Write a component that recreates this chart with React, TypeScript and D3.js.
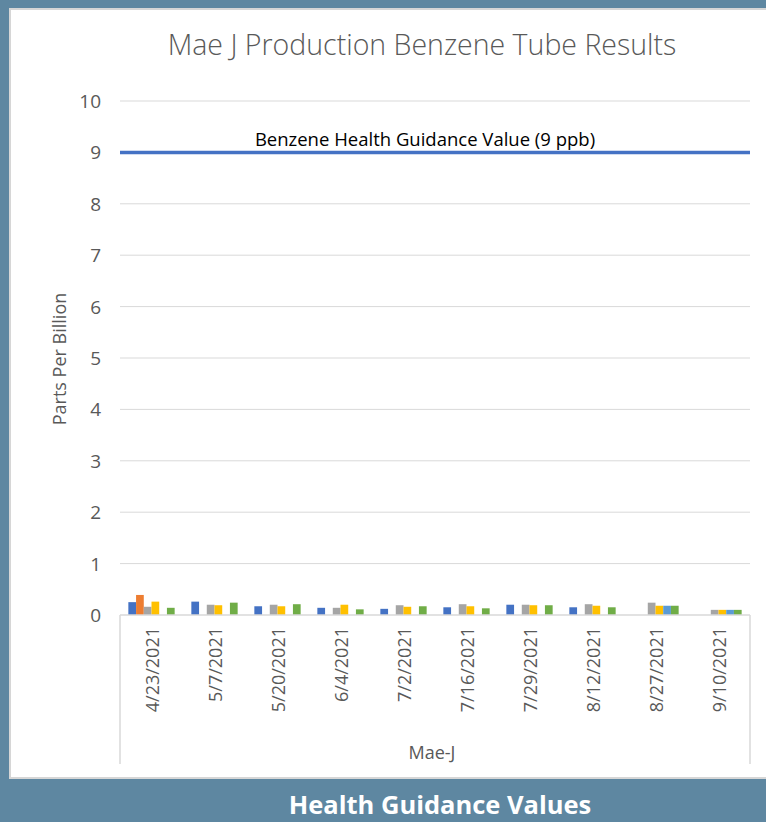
import React from 'react';
import * as d3 from 'd3';

const dates = ['4/23/2021', '5/7/2021', '5/20/2021', '6/4/2021', '7/2/2021', '7/16/2021', '7/29/2021', '8/12/2021', '8/27/2021', '9/10/2021'];
const seriesNames = ['Tube 1', 'Tube 2', 'Tube 3', 'Tube 4', 'Tube 5', 'Tube 6'];
const seriesColors = ['#4472C4', '#ED7D31', '#A5A5A5', '#FFC000', '#5B9BD5', '#70AD47'];
const tube1 = [0.25, 0.26, 0.17, 0.14, 0.12, 0.15, 0.2, 0.15, null, null];
const tube2 = [0.39, null, null, null, null, null, null, null, null, null];
const tube3 = [0.16, 0.2, 0.2, 0.14, 0.19, 0.21, 0.2, 0.21, 0.24, 0.1];
const tube4 = [0.26, 0.19, 0.17, 0.2, 0.16, 0.17, 0.19, 0.18, 0.18, 0.1];
const tube5 = [null, null, null, null, null, null, null, null, 0.18, 0.1];
const tube6 = [0.14, 0.24, 0.21, 0.11, 0.17, 0.13, 0.19, 0.15, 0.18, 0.1];
const yTicks = [0, 1, 2, 3, 4, 5, 6, 7, 8, 9, 10];
const guidanceValue = 9;
const guidanceLabel = 'Benzene Health Guidance Value (9 ppb)';

const W = 766;
const H = 822;
const font = '"Open Sans", Lato, sans-serif';
const textColor = '#595959';

export default function App() {
  const allSeries = [tube1, tube2, tube3, tube4, tube5, tube6];

  const x = d3.scaleBand<string>().domain(dates).range([120, 750]).paddingInner(0.265).paddingOuter(0.1325);
  const xs = d3.scaleBand<string>().domain(seriesNames).range([0, x.bandwidth()]);
  const y = d3.scaleLinear().domain([0, 10]).range([615, 101]);

  const [x0, x1] = x.range();

  return (
    <svg width={W} height={H} style={{ position: 'absolute', left: 0, top: 0 }} fontFamily={font}>
      <rect x={0} y={0} width={W} height={H} fill="#5E87A1" />
      <rect x={10} y={9} width={W} height={769} fill="#ffffff" stroke="#D6D6D6" strokeWidth={2} />

      <text x={422} y={44} textAnchor="middle" dominantBaseline="central" fontSize={28.5} fill={textColor} fontWeight={300}>
        Mae J Production Benzene Tube Results
      </text>

      {yTicks.map(t => (
        <g key={t}>
          {t > 0 && <line x1={x0} x2={x1} y1={y(t)} y2={y(t)} stroke="#D9D9D9" strokeWidth={1} />}
          <text x={101} y={y(t)} textAnchor="end" dominantBaseline="central" fontSize={19} fill={textColor}>{t}</text>
        </g>
      ))}

      <text transform={`translate(59,${y(5) + 1}) rotate(-90)`} textAnchor="middle" dominantBaseline="central" fontSize={18} fill={textColor}>
        Parts Per Billion
      </text>

      {allSeries.map((vals, si) => (
        <g key={si} fill={seriesColors[si]}>
          {dates.map((d, i) => {
            const v = vals[i];
            if (v == null) return null;
            return (
              <rect key={d} x={(x(d) ?? 0) + (xs(seriesNames[si]) ?? 0)} y={y(v)} width={xs.bandwidth()} height={y(0) - y(v)} />
            );
          })}
        </g>
      ))}

      <line x1={x0} x2={x1} y1={y(guidanceValue)} y2={y(guidanceValue)} stroke="#4472C4" strokeWidth={3.5} />
      <text x={425} y={138} textAnchor="middle" dominantBaseline="central" fontSize={18.5} fill="#000000">
        {guidanceLabel}
      </text>

      <line x1={x0} x2={x1} y1={y(0)} y2={y(0)} stroke="#D9D9D9" strokeWidth={1.5} />
      <line x1={x0} x2={x0} y1={y(0)} y2={764} stroke="#D9D9D9" strokeWidth={1.5} />
      <line x1={x1} x2={x1} y1={y(0)} y2={764} stroke="#D9D9D9" strokeWidth={1.5} />

      {dates.map(d => (
        <text key={d} transform={`translate(${(x(d) ?? 0) + x.bandwidth() / 2},627) rotate(-90)`} textAnchor="end" dominantBaseline="central" fontSize={18} fill={textColor}>
          {d}
        </text>
      ))}

      <text x={432} y={752} textAnchor="middle" dominantBaseline="central" fontSize={18} fill={textColor}>Mae-J</text>

      <text x={440} y={804} textAnchor="middle" dominantBaseline="central" fontSize={25.5} fontWeight={700} fill="#ffffff">
        Health Guidance Values
      </text>
    </svg>
  );
}
